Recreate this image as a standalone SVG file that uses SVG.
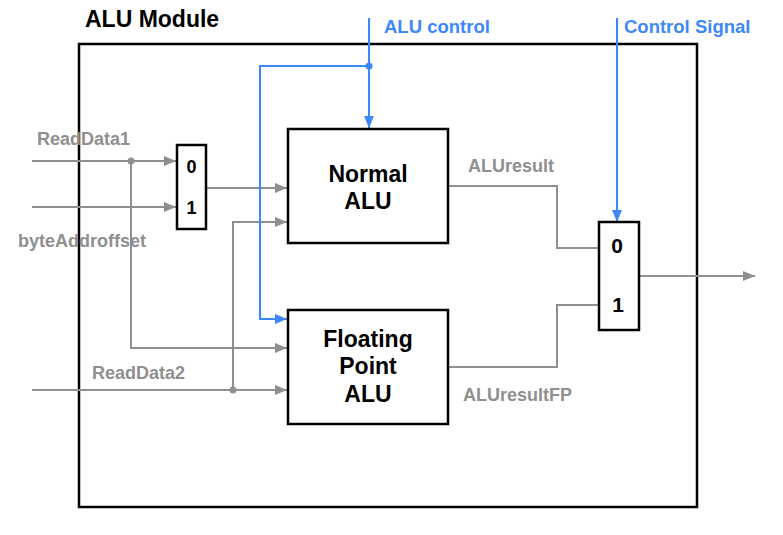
<svg xmlns="http://www.w3.org/2000/svg" width="783" height="535" viewBox="0 0 783 535">
<defs>
<style>
.box{fill:#fff;stroke:#000;stroke-width:2.5}
.g{fill:none;stroke:#8f8f8f;stroke-width:2}
.b{fill:none;stroke:#3d88f7;stroke-width:2}
.glbl{font-family:"Liberation Sans",Arial,sans-serif;font-weight:bold;font-size:18px;fill:#8f8f8f}
.blbl{font-family:"Liberation Sans",Arial,sans-serif;font-weight:bold;font-size:18.5px;fill:#3d88f7}
.t{font-family:"Liberation Sans",Arial,sans-serif;font-weight:bold;font-size:23px;fill:#000;text-anchor:middle}
.d{font-family:"Liberation Sans",Arial,sans-serif;font-weight:bold;font-size:18px;fill:#000;text-anchor:middle}
.d2{font-family:"Liberation Sans",Arial,sans-serif;font-weight:bold;font-size:21px;fill:#000;text-anchor:middle}
</style>
<marker id="ag" markerWidth="12" markerHeight="10" refX="12" refY="5" orient="auto" markerUnits="userSpaceOnUse"><path d="M0,0 L12,5 L0,10 z" fill="#8f8f8f"/></marker>
<marker id="ab" markerWidth="12" markerHeight="10" refX="12" refY="5" orient="auto" markerUnits="userSpaceOnUse"><path d="M0,0 L12,5 L0,10 z" fill="#3d88f7"/></marker>
</defs>
<rect width="783" height="535" fill="#fff"/>
<g id="module">
<rect x="79" y="44" width="618" height="463" fill="none" stroke="#000" stroke-width="2.5"/>
<text x="85" y="27" font-family="Liberation Sans,Arial,sans-serif" font-weight="bold" font-size="23" fill="#000">ALU Module</text>
</g>
<g id="connectors">
<polyline class="g" points="32,161 176,161" marker-end="url(#ag)"/>
<polyline class="g" points="32,207 176,207" marker-end="url(#ag)"/>
<polyline class="g" points="207,188 287,188" marker-end="url(#ag)"/>
<polyline class="g" points="131,161 131,348 287,348" marker-end="url(#ag)"/>
<polyline class="g" points="32,390 287,390" marker-end="url(#ag)"/>
<polyline class="g" points="233,390 233,222 287,222" marker-end="url(#ag)"/>
<circle cx="131" cy="161" r="3.5" fill="#8f8f8f"/>
<circle cx="233" cy="390" r="3.5" fill="#8f8f8f"/>
<polyline class="g" points="448,186 557,186 557,248 599,248"/>
<polyline class="g" points="448,367 557,367 557,305 599,305"/>
<polyline class="g" points="639,276 755,276" marker-end="url(#ag)"/>
<polyline class="b" points="369,18 369,128" marker-end="url(#ab)"/>
<polyline class="b" points="369,66 260,66 260,319 287,319" marker-end="url(#ab)"/>
<circle cx="369" cy="66" r="3.5" fill="#3d88f7"/>
<polyline class="b" points="617,18 617,222" marker-end="url(#ab)"/>
<text class="glbl" x="37" y="145">ReadData1</text>
<text class="glbl" x="18" y="247">byteAddroffset</text>
<text class="glbl" x="92" y="379">ReadData2</text>
<text class="glbl" x="468" y="172">ALUresult</text>
<text class="glbl" x="463" y="401">ALUresultFP</text>
<text class="blbl" x="384" y="33">ALU control</text>
<text class="blbl" x="624" y="33">Control Signal</text>
</g>
<g id="mux1">
<rect class="box" x="177" y="145" width="29" height="84"/>
<text class="d" x="191.5" y="173">0</text>
<text class="d" x="191.5" y="214">1</text>
</g>
<g id="normal-alu">
<rect class="box" x="288" y="129" width="160" height="114"/>
<text class="t" x="368" y="182">Normal</text>
<text class="t" x="368" y="209">ALU</text>
</g>
<g id="fp-alu">
<rect class="box" x="288" y="310" width="160" height="114"/>
<text class="t" x="368" y="347">Floating</text>
<text class="t" x="368" y="374">Point</text>
<text class="t" x="368" y="402">ALU</text>
</g>
<g id="mux2">
<rect class="box" x="599" y="222" width="40" height="108"/>
<text class="d2" x="617" y="253">0</text>
<text class="d2" x="618" y="312">1</text>
</g>
</svg>
